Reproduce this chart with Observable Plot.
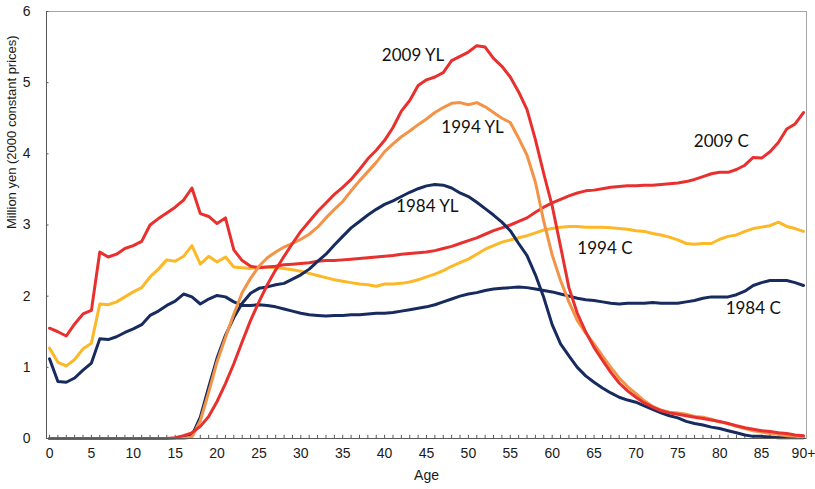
<!DOCTYPE html>
<html><head><meta charset="utf-8">
<script src="https://cdn.jsdelivr.net/npm/d3@7"></script>
<script src="https://cdn.jsdelivr.net/npm/@observablehq/plot@0.6"></script>
<style>body{margin:0;background:#fff}</style>
</head><body><div id="chart"></div>
<script>
const ages = d3.range(0, 91);
const tickAges = d3.range(0, 91, 5);
const yTicks = d3.range(0, 7);
const xDomain = [-0.36, 90.36];

const seriesNames = ["1984 C", "1994 C", "2009 C", "1984 YL", "1994 YL", "2009 YL"];
const seriesColors = ["#172b5e", "#fdb827", "#e8302e", "#172b5e", "#f39347", "#e8302e"];

const c1984 = [1.12,0.80,0.79,0.85,0.96,1.06,1.40,1.39,1.43,1.49,1.54,1.60,1.73,1.79,1.87,1.93,2.03,1.99,1.89,1.96,
2.01,1.99,1.92,1.87,1.87,1.88,1.87,1.85,1.82,1.79,1.76,1.74,1.73,1.72,1.73,1.73,1.74,1.74,1.75,1.76,
1.76,1.77,1.79,1.81,1.83,1.85,1.88,1.92,1.96,2.00,2.03,2.05,2.08,2.10,2.11,2.12,2.13,2.12,2.10,2.08,
2.06,2.03,2.00,1.97,1.95,1.94,1.92,1.90,1.89,1.90,1.90,1.90,1.91,1.90,1.90,1.90,1.92,1.94,1.97,1.99,
1.99,1.99,2.02,2.07,2.15,2.19,2.22,2.22,2.22,2.19,2.15];

const c1994 = [1.27,1.07,1.02,1.11,1.26,1.34,1.89,1.88,1.92,1.99,2.06,2.12,2.27,2.38,2.51,2.49,2.56,2.71,2.45,2.56,
2.48,2.55,2.41,2.40,2.39,2.41,2.41,2.40,2.39,2.37,2.35,2.32,2.29,2.26,2.23,2.21,2.19,2.17,2.16,2.14,
2.17,2.17,2.18,2.20,2.23,2.27,2.31,2.36,2.42,2.47,2.52,2.59,2.66,2.71,2.76,2.79,2.82,2.85,2.89,2.93,
2.95,2.97,2.98,2.98,2.97,2.97,2.97,2.96,2.95,2.94,2.92,2.91,2.88,2.86,2.83,2.79,2.74,2.73,2.74,2.74,
2.80,2.84,2.86,2.91,2.95,2.97,2.99,3.04,2.98,2.95,2.91];

const c2009 = [1.55,1.50,1.44,1.61,1.75,1.80,2.62,2.55,2.59,2.67,2.71,2.77,3.00,3.09,3.17,3.25,3.35,3.52,3.16,3.12,
3.02,3.10,2.65,2.50,2.42,2.40,2.41,2.42,2.44,2.45,2.46,2.47,2.49,2.50,2.50,2.51,2.52,2.53,2.54,2.55,
2.56,2.57,2.59,2.60,2.61,2.62,2.64,2.67,2.70,2.74,2.78,2.82,2.87,2.92,2.96,3.00,3.05,3.10,3.18,3.25,
3.31,3.36,3.41,3.45,3.48,3.49,3.51,3.53,3.54,3.55,3.55,3.56,3.56,3.57,3.58,3.59,3.61,3.64,3.68,3.72,
3.74,3.74,3.78,3.84,3.95,3.94,4.03,4.16,4.35,4.42,4.58];

const yl1984 = [0,0,0,0,0,0,0,0,0,0,0,0,0,0,0,0,0.01,0.04,0.30,0.72,
1.13,1.45,1.70,1.90,2.04,2.11,2.13,2.16,2.18,2.24,2.30,2.38,2.49,2.59,2.72,2.84,2.96,3.05,3.14,3.22,
3.29,3.34,3.40,3.46,3.51,3.55,3.57,3.56,3.52,3.45,3.40,3.32,3.23,3.14,3.04,2.92,2.74,2.57,2.30,1.98,
1.60,1.33,1.16,1.00,0.88,0.79,0.71,0.64,0.58,0.54,0.51,0.46,0.41,0.36,0.32,0.29,0.24,0.21,0.19,0.16,
0.14,0.11,0.08,0.05,0.03,0.03,0.02,0.01,0.01,0.01,0.01];

const yl1994 = [0,0,0,0,0,0,0,0,0,0,0,0,0,0,0,0,0,0.02,0.25,0.65,
1.08,1.42,1.75,2.05,2.25,2.42,2.54,2.62,2.69,2.74,2.80,2.87,2.97,3.10,3.22,3.33,3.48,3.62,3.75,3.88,
4.03,4.14,4.24,4.32,4.41,4.49,4.58,4.65,4.71,4.72,4.69,4.72,4.66,4.58,4.50,4.44,4.22,3.98,3.60,3.05,
2.58,2.22,1.92,1.66,1.48,1.33,1.16,1.00,0.85,0.73,0.63,0.53,0.45,0.40,0.37,0.36,0.34,0.31,0.30,0.27,
0.23,0.21,0.17,0.14,0.11,0.09,0.07,0.06,0.04,0.03,0.02];

const yl2009 = [0,0,0,0,0,0,0,0,0,0,0,0,0,0,0,0.01,0.04,0.08,0.17,0.31,
0.52,0.77,1.05,1.36,1.66,1.92,2.16,2.37,2.56,2.74,2.91,3.05,3.19,3.31,3.43,3.53,3.64,3.78,3.93,4.05,
4.19,4.37,4.60,4.75,4.96,5.04,5.08,5.14,5.31,5.37,5.43,5.52,5.50,5.34,5.23,5.08,4.87,4.62,4.20,3.72,
3.27,2.70,2.12,1.76,1.50,1.28,1.10,0.93,0.78,0.67,0.58,0.50,0.44,0.39,0.36,0.34,0.32,0.30,0.28,0.26,
0.24,0.21,0.18,0.15,0.13,0.11,0.10,0.08,0.07,0.05,0.04];

const labelText = ["2009 YL", "1994 YL", "1984 YL", "2009 C", "1994 C", "1984 C"];
const labelAge = [43.4, 50.5, 45.1, 80.2, 66.3, 84.0];
const labelValue = [5.38, 4.37, 3.26, 4.17, 2.67, 1.83];

const xTitle = "Age";
const yTitle = "Million yen (2000 constant prices)";

const seriesValues = [c1984, c1994, c2009, yl1984, yl1994, yl2009];
const rows = [];
seriesNames.forEach((name, i) => {
  ages.forEach((a, j) => rows.push({series: name, age: a, value: seriesValues[i][j]}));
});
const labels = labelText.map((t, i) => ({text: t, age: labelAge[i], value: labelValue[i]}));

const axisColor = "#595959";

const chart = Plot.plot({
  width: 815,
  height: 489,
  marginLeft: 46,
  marginRight: 9,
  marginTop: 11,
  marginBottom: 51,
  x: {domain: xDomain},
  y: {domain: [0, 6]},
  color: {domain: seriesNames, range: seriesColors},
  style: {fontFamily: "'Liberation Sans', Arial, sans-serif", fontSize: "14px", background: "#fff", color: "#1a1a1a"},
  marks: [
    Plot.frame({stroke: "#a6a6a6"}),
    Plot.ruleX(ages, {x: d => d, y1: 0, y2: 0.045, stroke: axisColor}),
    Plot.ruleY(yTicks, {y: d => d, x1: xDomain[0], x2: xDomain[0] + 0.3, stroke: axisColor}),
    Plot.line(rows, {x: "age", y: "value", z: "series", stroke: "series", strokeWidth: 3}),
    Plot.ruleY([0], {stroke: axisColor}),
    Plot.ruleX([xDomain[0]], {stroke: axisColor}),
    Plot.axisX({ticks: tickAges, tickSize: 0, tickPadding: 10, tickFormat: d => d === 90 ? "90+" : String(d), label: null}),
    Plot.axisY({ticks: yTicks, tickSize: 0, tickPadding: 16, tickFormat: d => String(d), label: null}),
    Plot.text([xTitle], {frameAnchor: "bottom", dy: 41, fontSize: 14}),
    Plot.text([yTitle], {frameAnchor: "left", rotate: -90, dx: -35, dy: 4, fontSize: 13}),
    Plot.text(labels, {x: "age", y: "value", text: "text", fontFamily: "Lato", fontSize: 17, fill: "#111"})
  ]
});
document.getElementById("chart").appendChild(chart);
</script>
</body></html>
